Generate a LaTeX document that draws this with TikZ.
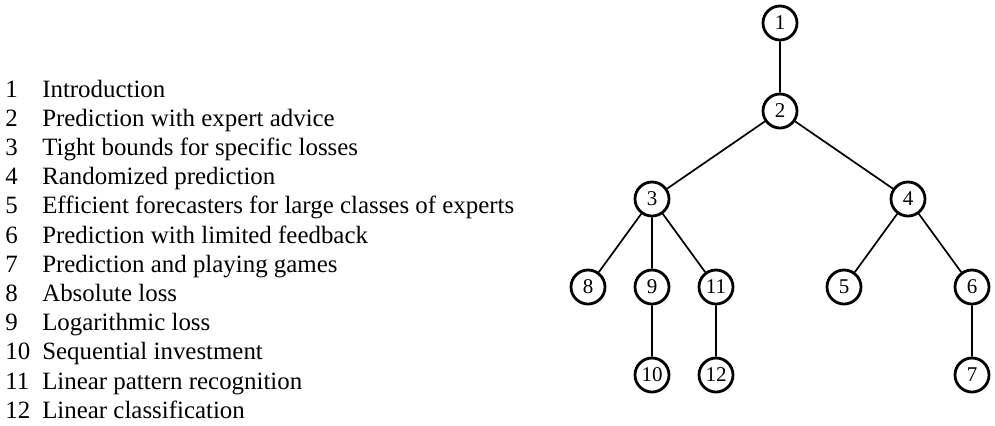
\documentclass[tikz,border=0pt]{standalone}
\usepackage{fontspec}
\setmainfont{Liberation Serif}
\begin{document}
\begin{tikzpicture}[x=0.5pt, y=-0.5pt, chapter/.style = {shape=circle, draw, line width=1.4pt,
                        minimum size=17pt, inner sep=0pt, font=\fontsize{10.5}{12}\selectfont},
                        link/.style = {line width=0.85pt}]
        \useasboundingbox (0,0) rectangle (995,425);
        \node[anchor=base west, inner sep=0pt] (contents) at (5,97)
          {\fontsize{12.45}{14.6}\selectfont
           \begin{tabular}[t]{@{}l@{\hspace{6pt}}l@{}}
             1 & Introduction\\
             2 & Prediction with expert advice\\
             3 & Tight bounds for specific losses\\
             4 & Randomized prediction\\
             5 & Efficient forecasters for large classes of experts\\
             6 & Prediction with limited feedback\\
             7 & Prediction and playing games\\
             8 & Absolute loss\\
             9 & Logarithmic loss\\
             10 & Sequential investment\\
             11 & Linear pattern recognition\\
             12 & Linear classification
           \end{tabular}};
        \node[chapter] (c1) at (780,23) {1};
        \node[chapter] (c2) at (780,111) {2};
        \node[chapter] (c3) at (652,199) {3};
        \node[chapter] (c4) at (908,199) {4};
        \node[chapter] (c8) at (588,287) {8};
        \node[chapter] (c9) at (652,287) {9};
        \node[chapter] (c11) at (716,287) {11};
        \node[chapter] (c5) at (844,287) {5};
        \node[chapter] (c6) at (972,287) {6};
        \node[chapter] (c10) at (652,375) {10};
        \node[chapter] (c12) at (716,375) {12};
        \node[chapter] (c7) at (972,375) {7};
        \draw[link] (c1) -- (c2) (c2) -- (c3) (c2) -- (c4)
          (c3) -- (c8) (c3) -- (c9) (c3) -- (c11) (c9) -- (c10) (c11) -- (c12)
          (c4) -- (c5) (c4) -- (c6) (c6) -- (c7);
    \end{tikzpicture}
\end{document}
